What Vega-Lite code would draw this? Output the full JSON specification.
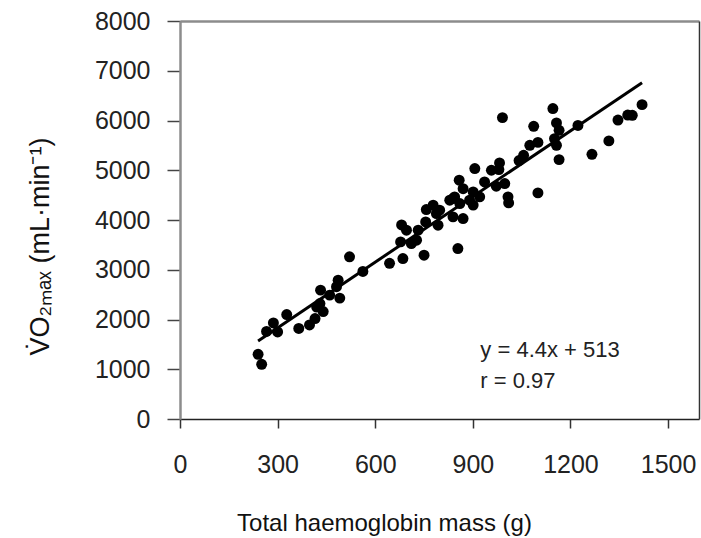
{
  "$schema": "https://vega.github.io/schema/vega-lite/v6.json",
  "width": 519,
  "height": 398,
  "padding": {"left": 180, "top": 21, "right": 2, "bottom": 119},
  "autosize": {"type": "none"},
  "background": "white",
  "config": {
    "view": {"stroke": null},
    "font": "Liberation Sans",
    "axis": {"grid": false, "labelFont": "Liberation Sans", "titleFont": "Liberation Sans", "labelColor": "#222", "titleColor": "#111", "titleFontWeight": "normal"}
  },
  "datasets": {
    "pts": [
      {"hb": 240, "vo2": 1300}, {"hb": 251, "vo2": 1100}, {"hb": 266, "vo2": 1760}, {"hb": 287, "vo2": 1930},
      {"hb": 300, "vo2": 1750}, {"hb": 328, "vo2": 2100}, {"hb": 365, "vo2": 1820}, {"hb": 398, "vo2": 1890},
      {"hb": 415, "vo2": 2020}, {"hb": 420, "vo2": 2250}, {"hb": 430, "vo2": 2320}, {"hb": 432, "vo2": 2590},
      {"hb": 440, "vo2": 2160}, {"hb": 460, "vo2": 2490}, {"hb": 481, "vo2": 2660}, {"hb": 486, "vo2": 2790},
      {"hb": 491, "vo2": 2430}, {"hb": 521, "vo2": 3260}, {"hb": 562, "vo2": 2965},
      {"hb": 644, "vo2": 3130}, {"hb": 685, "vo2": 3226}, {"hb": 678, "vo2": 3560}, {"hb": 681, "vo2": 3900},
      {"hb": 696, "vo2": 3795}, {"hb": 711, "vo2": 3527}, {"hb": 727, "vo2": 3594}, {"hb": 732, "vo2": 3795},
      {"hb": 750, "vo2": 3293}, {"hb": 755, "vo2": 3960}, {"hb": 757, "vo2": 4210}, {"hb": 778, "vo2": 4297},
      {"hb": 788, "vo2": 4130}, {"hb": 793, "vo2": 3896}, {"hb": 798, "vo2": 4197},
      {"hb": 829, "vo2": 4398}, {"hb": 839, "vo2": 4431}, {"hb": 844, "vo2": 4465}, {"hb": 839, "vo2": 4063},
      {"hb": 854, "vo2": 3427}, {"hb": 858, "vo2": 4800}, {"hb": 860, "vo2": 4331}, {"hb": 870, "vo2": 4030},
      {"hb": 870, "vo2": 4630}, {"hb": 890, "vo2": 4398}, {"hb": 901, "vo2": 4565}, {"hb": 901, "vo2": 4300},
      {"hb": 906, "vo2": 5034}, {"hb": 921, "vo2": 4465}, {"hb": 936, "vo2": 4765}, {"hb": 957, "vo2": 5000},
      {"hb": 972, "vo2": 4680}, {"hb": 980, "vo2": 5014}, {"hb": 982, "vo2": 5147}, {"hb": 998, "vo2": 4733},
      {"hb": 1008, "vo2": 4465}, {"hb": 1010, "vo2": 4344}, {"hb": 991, "vo2": 6058}, {"hb": 1042, "vo2": 5195},
      {"hb": 1056, "vo2": 5300}, {"hb": 1075, "vo2": 5502}, {"hb": 1100, "vo2": 5560}, {"hb": 1087, "vo2": 5884},
      {"hb": 1100, "vo2": 4545}, {"hb": 1146, "vo2": 6240}, {"hb": 1151, "vo2": 5636}, {"hb": 1157, "vo2": 5502},
      {"hb": 1157, "vo2": 5950}, {"hb": 1165, "vo2": 5803}, {"hb": 1165, "vo2": 5214}, {"hb": 1223, "vo2": 5900},
      {"hb": 1266, "vo2": 5321}, {"hb": 1318, "vo2": 5590}, {"hb": 1346, "vo2": 6010}, {"hb": 1376, "vo2": 6110},
      {"hb": 1390, "vo2": 6104}, {"hb": 1420, "vo2": 6319}
    ],
    "fit": [{"hb": 240, "vo2": 1569}, {"hb": 1420, "vo2": 6761}],
    "notes": [{"hb": 923, "vo2": 1250, "label": "y = 4.4x + 513"}, {"hb": 923, "vo2": 620, "label": "r = 0.97"}]
  },
  "layer": [
    {
      "data": {"name": "pts"},
      "mark": {"type": "circle", "size": 120, "color": "#000", "opacity": 1},
      "encoding": {
        "x": {"field": "hb", "type": "quantitative", "scale": {"domain": [0, 1595], "nice": false},
          "axis": {"orient": "bottom", "values": [0, 300, 600, 900, 1200, 1500], "format": "d", "title": "Total haemoglobin mass (g)",
            "domainColor": "#222", "domainWidth": 1.5, "tickColor": "#333", "tickWidth": 1.5, "tickSize": 9,
            "labelFontSize": 25, "labelPadding": 44, "labelBaseline": "alphabetic", "labelFlush": false,
            "titleFontSize": 24, "titleX": 204, "titleY": 111, "titleBaseline": "alphabetic", "titleAnchor": "middle"}},
        "y": {"field": "vo2", "type": "quantitative", "scale": {"domain": [0, 8000], "nice": false},
          "axis": {"orient": "left", "values": [0, 1000, 2000, 3000, 4000, 5000, 6000, 7000, 8000], "format": "d", "title": "V̇O₂ₘₐₓ (mL·min⁻¹)",
            "domainColor": "#8c8c8c", "domainWidth": 2.5, "tickColor": "#444", "tickWidth": 1.5, "tickSize": 13,
            "labelFontSize": 25, "labelPadding": 17, "labelBaseline": "middle", "labelFlush": false,
            "titleFontSize": 27, "titlePadding": 40, "titleY": 225}}
      }
    },
    {
      "data": {"name": "fit"},
      "mark": {"type": "line", "color": "#000", "strokeWidth": 3},
      "encoding": {
        "x": {"field": "hb", "type": "quantitative", "axis": {"orient": "top", "labels": false, "ticks": false, "title": null, "domainColor": "#8c8c8c", "domainWidth": 2.5}},
        "y": {"field": "vo2", "type": "quantitative", "axis": {"orient": "right", "labels": false, "ticks": false, "title": null, "domainColor": "#333", "domainWidth": 1.5}}
      }
    },
    {
      "data": {"name": "notes"},
      "mark": {"type": "text", "align": "left", "baseline": "alphabetic", "fontSize": 22, "color": "#222", "font": "Liberation Sans"},
      "encoding": {
        "x": {"field": "hb", "type": "quantitative", "axis": null},
        "y": {"field": "vo2", "type": "quantitative", "axis": null},
        "text": {"field": "label"}
      }
    }
  ],
  "resolve": {"axis": {"x": "independent", "y": "independent"}}
}
